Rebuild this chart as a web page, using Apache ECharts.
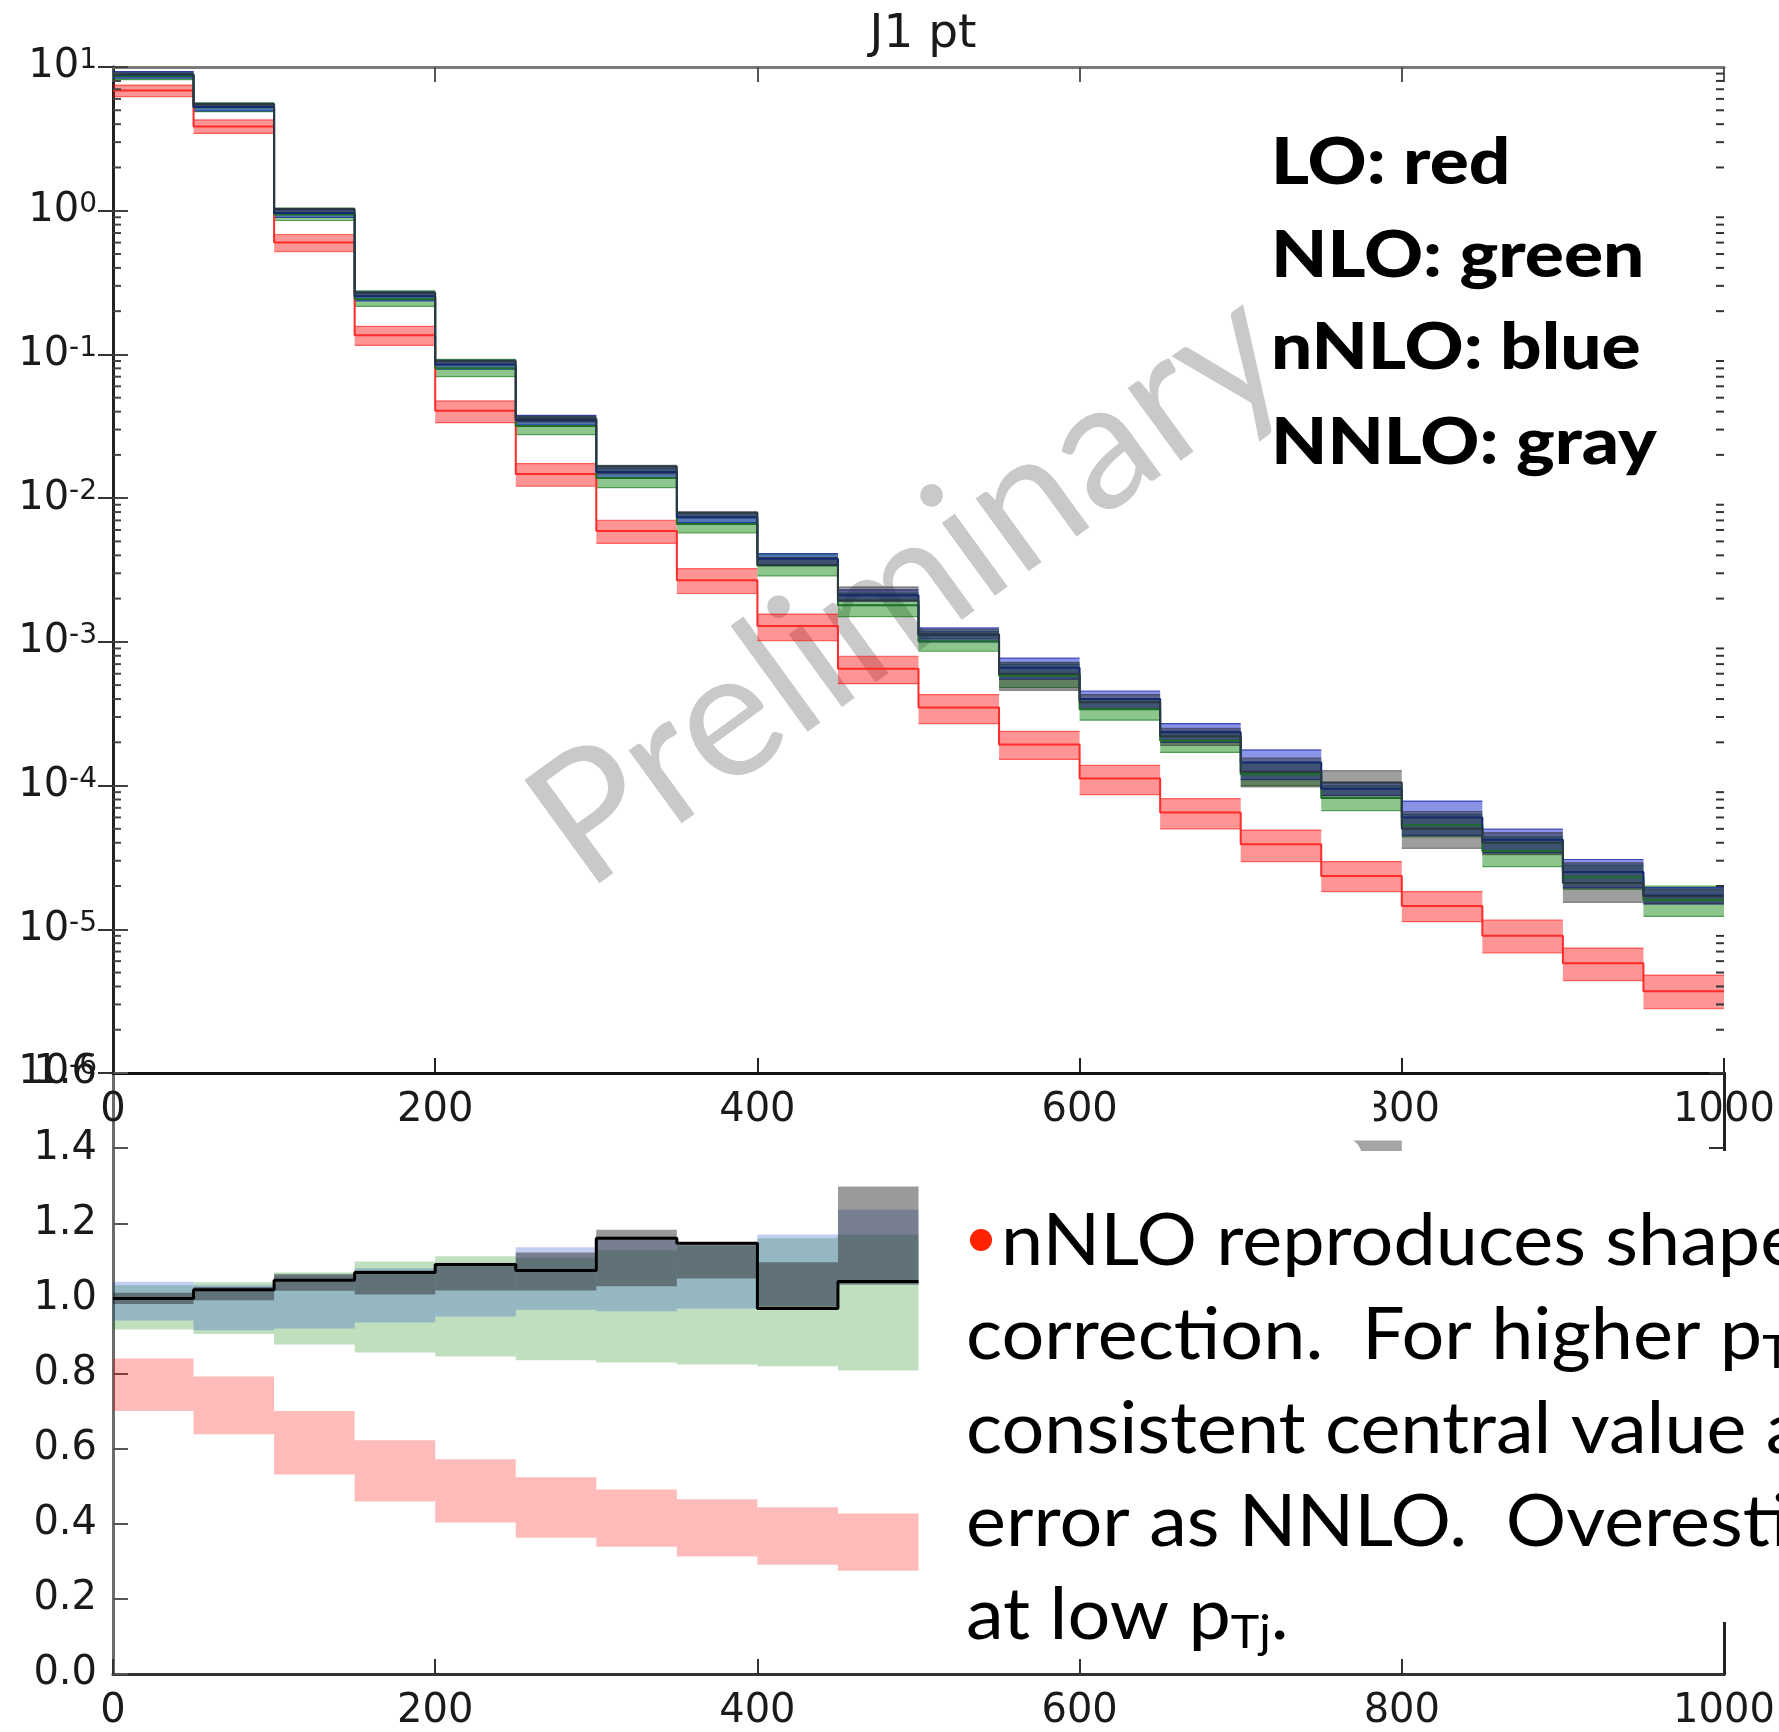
<!DOCTYPE html>
<html><head><meta charset="utf-8">
<script src="https://cdn.jsdelivr.net/npm/echarts@6/dist/echarts.min.js"></script>
<style>html,body{margin:0;padding:0;background:#fff}#c{width:1779px;height:1732px}</style>
</head><body><div id="c"></div>
<script>
// ---------------- data ----------------
const binEdges = [0,50,100,150,200,250,300,350,400,450,500,550,600,650,700,750,800,850,900,950,1000];

// top panel: J1 pt distribution (band low / band high / central), 20 bins
const LO_lo  = [6.23,3.45,0.518,0.1157,0.0335,0.0121,0.00485,0.00217,0.00102,0.000512,0.00027,0.000152,8.65e-5,5.0e-5,2.96e-5,1.83e-5,1.13e-5,6.84e-6,4.4e-6,2.8e-6];
const LO_hi  = [7.48,4.28,0.683,0.1567,0.0475,0.0174,0.00702,0.00323,0.00156,0.000794,0.00043,0.000238,1.38e-4,8.1e-5,4.9e-5,2.96e-5,1.83e-5,1.16e-5,7.4e-6,4.8e-6];
const LO_c   = [6.85,3.86,0.60,0.136,0.0405,0.0147,0.0059,0.00268,0.00129,0.00065,0.00035,0.000193,1.12e-4,6.5e-5,3.9e-5,2.35e-5,1.45e-5,9.0e-6,5.8e-6,3.7e-6];

const NLO_lo = [8.16,4.89,0.855,0.216,0.0701,0.0277,0.01185,0.00572,0.00288,0.0015,0.00086,0.00048,0.000285,0.00017,1.0e-4,6.7e-5,4.4e-5,2.73e-5,1.9e-5,1.23e-5];
const NLO_hi = [9.21,5.63,1.042,0.277,0.0923,0.0368,0.0161,0.00791,0.00408,0.00218,0.00118,0.00070,0.00040,0.00024,1.45e-4,1.0e-4,6.3e-5,4.4e-5,2.8e-5,2.0e-5];
const NLO_c  = [8.65,5.25,0.94,0.243,0.080,0.0318,0.0138,0.0066,0.0034,0.0018,0.00101,0.00058,0.00034,0.000205,1.2e-4,8.2e-5,5.3e-5,3.5e-5,2.3e-5,1.6e-5];

const nNLO_lo = [8.37,4.94,0.897,0.236,0.079,0.0322,0.0138,0.00675,0.00345,0.00193,0.00100,0.00055,0.00034,0.00020,1.1e-4,8.5e-5,4.5e-5,3.4e-5,1.95e-5,1.5e-5];
const nNLO_hi = [9.29,5.59,1.034,0.272,0.0909,0.0377,0.0167,0.00797,0.00412,0.0023,0.00125,0.00077,0.000455,0.00027,1.77e-4,1.05e-4,7.8e-5,4.97e-5,3.06e-5,1.95e-5];
const nNLO_c  = [8.83,5.27,0.965,0.254,0.085,0.035,0.0152,0.00736,0.00378,0.00211,0.00112,0.00066,0.0004,0.000235,1.45e-4,9.5e-5,6.0e-5,4.2e-5,2.5e-5,1.72e-5];

const NNLO_lo = [8.77,5.37,0.995,0.2545,0.0847,0.0339,0.01476,0.00731,0.00343,0.00193,0.00105,0.00046,0.00034,0.00019,9.8e-5,8.5e-5,3.66e-5,3.3e-5,1.54e-5,1.5e-5];
const NNLO_hi = [9.03,5.56,1.038,0.2706,0.0905,0.0373,0.0169,0.00796,0.00386,0.00241,0.00122,0.00072,0.00043,0.00025,1.55e-4,1.27e-4,6.6e-5,4.7e-5,2.9e-5,1.9e-5];
const NNLO_c  = [8.9,5.52,1.022,0.269,0.0905,0.0357,0.0166,0.00796,0.00343,0.00194,0.00113,0.0006,0.00038,0.00022,1.25e-4,1.05e-4,5.0e-5,4.0e-5,2.1e-5,1.7e-5];

// bottom panel: ratios, first 10 bins (0-500)
const rLO_lo   = [0.70,0.638,0.531,0.459,0.403,0.363,0.339,0.313,0.291,0.275];
const rLO_hi   = [0.84,0.792,0.70,0.622,0.572,0.524,0.491,0.465,0.444,0.427];
const rNLO_lo  = [0.917,0.905,0.877,0.856,0.845,0.835,0.829,0.824,0.819,0.808];
const rNLO_hi  = [1.035,1.043,1.069,1.098,1.112,1.108,1.128,1.14,1.16,1.17];
const rnNLO_lo = [0.941,0.915,0.92,0.936,0.952,0.97,0.966,0.973,0.98,1.037];
const rnNLO_hi = [1.044,1.035,1.06,1.08,1.095,1.136,1.165,1.149,1.17,1.236];
const rNNLO_lo = [0.985,0.995,1.02,1.01,1.021,1.021,1.032,1.053,0.973,1.037];
const rNNLO_hi = [1.015,1.03,1.065,1.074,1.09,1.122,1.183,1.147,1.096,1.298];
const rCentral = [1.0,1.023,1.048,1.069,1.09,1.074,1.16,1.147,0.973,1.045];
// only visible piece of the otherwise covered ratio panel (bin 750-800, gray band top)
const rHiddenEdges = [750,800];
const rHiddenNNLO_lo = [1.2];
const rHiddenNNLO_hi = [1.42];

// axis decoration
const logDecades = [-6,-5,-4,-3,-2,-1,0];
const minorMult = [2,3,4,5,6,7,8,9];

const legendLines = ['LO: red','NLO: green','nNLO: blue','NNLO: gray'];
const titleText = 'J1 pt';
const watermarkText = 'Preliminary';

// ---------------- helpers ----------------
function bandSeries(edges, lo, hi, fill, edge, xi, yi, z) {
  const data = lo.map((v, i) => [edges[i], edges[i + 1], v, hi[i]]);
  return {
    type: 'custom', xAxisIndex: xi, yAxisIndex: yi, z: z, clip: true, silent: true,
    encode: { x: [0, 1], y: [2, 3] },
    data: data,
    renderItem: function (params, api) {
      const a = api.coord([api.value(0), api.value(3)]);
      const b = api.coord([api.value(1), api.value(2)]);
      const kids = [{ type: 'rect', shape: { x: a[0], y: a[1], width: b[0] - a[0], height: b[1] - a[1] }, style: { fill: fill } }];
      if (edge) {
        kids.push({ type: 'line', shape: { x1: a[0], y1: a[1], x2: b[0], y2: a[1] }, style: { stroke: edge, lineWidth: 1.2 } });
        kids.push({ type: 'line', shape: { x1: a[0], y1: b[1], x2: b[0], y2: b[1] }, style: { stroke: edge, lineWidth: 1.2 } });
      }
      return { type: 'group', children: kids };
    }
  };
}
function stepSeries(edges, vals, color, width, xi, yi, z) {
  const d = vals.map((v, i) => [edges[i], v]);
  d.push([edges[vals.length], vals[vals.length - 1]]);
  return { type: 'line', step: 'end', data: d, showSymbol: false, symbol: 'none', xAxisIndex: xi, yAxisIndex: yi, z: z,
    lineStyle: { color: color, width: width }, silent: true, animation: false };
}
const minorData = [];
logDecades.forEach(d => minorMult.forEach(m => minorData.push([0, m * Math.pow(10, d)])));

const AX = '#1a1a1a';
const FONT = 'DejaVu Sans';
const LABEL_FS = 40;

const option = {
  animation: false,
  backgroundColor: '#ffffff',
  title: { text: titleText, left: 918, top: 6, textAlign: 'center',
    textStyle: { fontFamily: FONT, fontSize: 47, fontWeight: 'normal', color: AX } },
  grid: [
    { left: 113, top: 67, width: 1611, height: 1006 },
    { left: 113, top: 1073, width: 1611, height: 603 }
  ],
  xAxis: [
    { type: 'value', gridIndex: 0, position: 'bottom', min: 0, max: 1000, interval: 200,
      axisLine: { show: true, onZero: false, lineStyle: { color: '#111', width: 3 } },
      axisTick: { show: true, inside: true, length: 15, lineStyle: { color: '#222', width: 2 } },
      axisLabel: { show: true, margin: 18, fontFamily: FONT, fontSize: LABEL_FS, color: AX, showMinLabel: true, showMaxLabel: true, formatter: v => String(v) },
      splitLine: { show: false } },
    { type: 'value', gridIndex: 0, position: 'top', min: 0, max: 1000, interval: 200,
      axisLine: { show: true, onZero: false, lineStyle: { color: '#7a7a7a', width: 3 } },
      axisTick: { show: true, inside: true, length: 15, lineStyle: { color: '#555', width: 2 } },
      axisLabel: { show: false }, splitLine: { show: false } },
    { type: 'value', gridIndex: 1, position: 'bottom', min: 0, max: 1000, interval: 200,
      axisLine: { show: true, onZero: false, lineStyle: { color: '#333', width: 3 } },
      axisTick: { show: true, inside: true, length: 15, lineStyle: { color: '#333', width: 2 } },
      axisLabel: { show: true, margin: 18, fontFamily: FONT, fontSize: LABEL_FS, color: AX, showMinLabel: true, showMaxLabel: true, formatter: v => String(v) },
      splitLine: { show: false } }
  ],
  yAxis: [
    { type: 'log', logBase: 10, gridIndex: 0, position: 'left', min: 1e-6, max: 10,
      axisLine: { show: true, lineStyle: { color: '#6a6a6a', width: 3 } },
      axisTick: { show: true, inside: true, length: 15, lineStyle: { color: '#444', width: 2 } },
      axisLabel: { show: true, margin: 16,
        formatter: v => '{b|10}{s|' + Math.round(Math.log10(v)) + '}',
        rich: { b: { fontFamily: FONT, fontSize: LABEL_FS, color: AX },
                s: { fontFamily: FONT, fontSize: 28, color: AX, verticalAlign: 'top', lineHeight: 26 } } },
      splitLine: { show: false } },
    { type: 'log', logBase: 10, gridIndex: 0, position: 'right', min: 1e-6, max: 10,
      axisLine: { show: true, lineStyle: { color: '#222', width: 3 } },
      axisTick: { show: true, inside: true, length: 15, lineStyle: { color: '#333', width: 2 } },
      axisLabel: { show: false }, splitLine: { show: false } },
    { type: 'value', gridIndex: 1, position: 'left', min: 0, max: 1.6, interval: 0.2,
      axisLine: { show: true, onZero: false, lineStyle: { color: '#6a6a6a', width: 3 } },
      axisTick: { show: true, inside: true, length: 15, lineStyle: { color: '#555', width: 2 } },
      axisLabel: { show: true, margin: 16, fontFamily: FONT, fontSize: LABEL_FS, color: AX, formatter: v => v.toFixed(1) },
      splitLine: { show: false } },
    { type: 'value', gridIndex: 1, position: 'right', min: 0, max: 1.6, interval: 0.2, z: 5,
      axisLine: { show: true, onZero: false, lineStyle: { color: '#222', width: 3 } },
      axisTick: { show: true, inside: true, length: 15, lineStyle: { color: '#333', width: 2 } },
      axisLabel: { show: false }, splitLine: { show: false } }
  ],
  series: [
    // top panel bands
    bandSeries(binEdges, LO_lo, LO_hi, 'rgba(255,0,0,0.42)', 'rgba(255,0,0,0.55)', 0, 0, 3),
    bandSeries(binEdges, NLO_lo, NLO_hi, 'rgba(0,128,0,0.45)', 'rgba(0,110,0,0.6)', 0, 0, 3),
    bandSeries(binEdges, nNLO_lo, nNLO_hi, 'rgba(20,40,210,0.5)', 'rgba(10,20,160,0.7)', 0, 0, 3),
    bandSeries(binEdges, NNLO_lo, NNLO_hi, 'rgba(40,40,40,0.45)', 'rgba(40,40,40,0.5)', 0, 0, 3),
    stepSeries(binEdges, LO_c, '#ff2a2a', 2, 0, 0, 4),
    stepSeries(binEdges, NLO_c, '#1f6e2a', 2, 0, 0, 4),
    stepSeries(binEdges, nNLO_c, '#14286e', 2, 0, 0, 4),
    stepSeries(binEdges, NNLO_c, '#2a3a40', 2, 0, 0, 4),
    // minor ticks of log axes (left and right spines)
    { type: 'custom', xAxisIndex: 0, yAxisIndex: 0, z: 6, silent: true, clip: false,
      encode: { x: 0, y: 1 }, data: minorData,
      renderItem: function (params, api) {
        const l = api.coord([0, api.value(1)]);
        const r = api.coord([1000, api.value(1)]);
        return { type: 'group', children: [
          { type: 'line', shape: { x1: l[0], y1: l[1], x2: l[0] + 8, y2: l[1] }, style: { stroke: '#444', lineWidth: 2 } },
          { type: 'line', shape: { x1: r[0] - 8, y1: r[1], x2: r[0], y2: r[1] }, style: { stroke: '#333', lineWidth: 2 } } ] };
      } },
    // ratio panel
    bandSeries(binEdges.slice(0, 11), rLO_lo, rLO_hi, 'rgba(255,0,0,0.27)', null, 2, 2, 3),
    bandSeries(binEdges.slice(0, 11), rNLO_lo, rNLO_hi, 'rgba(0,128,0,0.25)', null, 2, 2, 3),
    bandSeries(binEdges.slice(0, 11), rnNLO_lo, rnNLO_hi, 'rgba(40,80,200,0.28)', null, 2, 2, 3),
    bandSeries(binEdges.slice(0, 11), rNNLO_lo, rNNLO_hi, 'rgba(30,30,30,0.45)', null, 2, 2, 3),
    bandSeries(rHiddenEdges, rHiddenNNLO_lo, rHiddenNNLO_hi, 'rgba(30,30,30,0.4)', null, 2, 2, 3),
    stepSeries(binEdges.slice(0, 11), rCentral, '#000000', 3, 2, 2, 4)
  ],
  graphic: []
};

// ---- slide overlays: watermark, legend text, explanatory text box ----
const g = option.graphic;
g.push({ type: 'text', x: 908, y: 588, rotation: 36 * Math.PI / 180, z: 1, silent: true,
  style: { text: watermarkText, fontFamily: 'Lato', fontSize: 178, fill: '#c9c9c9',
    align: 'center', verticalAlign: 'middle', textAlign: 'center', textVerticalAlign: 'middle' } });

const legendBaselines = [185, 278, 370, 465];
legendLines.forEach((t, i) => g.push({ type: 'text', x: 1271, y: legendBaselines[i] - 22, scaleX: 1.14, z: 60, silent: true,
  style: { text: t, fontFamily: 'Lato', fontWeight: 900, fontSize: 64, fill: '#000',
    align: 'left', verticalAlign: 'middle', textAlign: 'left', textVerticalAlign: 'middle' } }));

// white slide text box covering the right part of the ratio panel
g.push({ type: 'rect', z: 50, silent: true, shape: { x: 919, y: 1151, width: 860, height: 471 }, style: { fill: '#ffffff' } });
// small white slide shapes clipping the "800" label and the gray piece
g.push({ type: 'rect', z: 50, silent: true, shape: { x: 1355, y: 1086, width: 19, height: 42 }, style: { fill: '#ffffff' } });
g.push({ type: 'rect', z: 50, silent: true, shape: { x: 1300, y: 1137, width: 62, height: 20, r: [0, 22, 0, 0] }, style: { fill: '#ffffff' } });

const mctx = document.createElement('canvas').getContext('2d');
const SX = 1.05;
function tw(t, px) { mctx.font = px + 'px Lato'; return mctx.measureText(t).width * SX; }
const BODY = 72, SUB = 46, TX = 966;
const bodyBase = [1266, 1360, 1454, 1547, 1640];
function bodyText(t, x, base, size, color) {
  g.push({ type: 'text', x: x, y: base - size * 0.33, scaleX: SX, z: 60, silent: true,
    style: { text: t, fontFamily: 'Lato', fontSize: size, fill: color || '#000',
      align: 'left', verticalAlign: 'middle', textAlign: 'left', textVerticalAlign: 'middle' } });
}
g.push({ type: 'circle', z: 60, silent: true, shape: { cx: 981, cy: 1240, r: 11 }, style: { fill: '#ff2200' } });
bodyText('nNLO reproduces shape', 1001, bodyBase[0], BODY);
const l2 = 'correction.  For higher p';
bodyText(l2, TX, bodyBase[1], BODY);
bodyText('T', TX + tw(l2, BODY), bodyBase[1] + 8, SUB);
bodyText('consistent central value and', TX, bodyBase[2], BODY);
bodyText('error as NNLO.  Overestimates', TX, bodyBase[3], BODY);
const l5 = 'at low p';
bodyText(l5, TX, bodyBase[4], BODY);
bodyText('Tj', TX + tw(l5, BODY), bodyBase[4] + 8, SUB);
bodyText('.', TX + tw(l5, BODY) + tw('Tj', SUB), bodyBase[4], BODY);

const chart = echarts.init(document.getElementById('c'), null, { renderer: 'canvas', width: 1779, height: 1732 });
chart.setOption(option);
</script>
</body></html>
